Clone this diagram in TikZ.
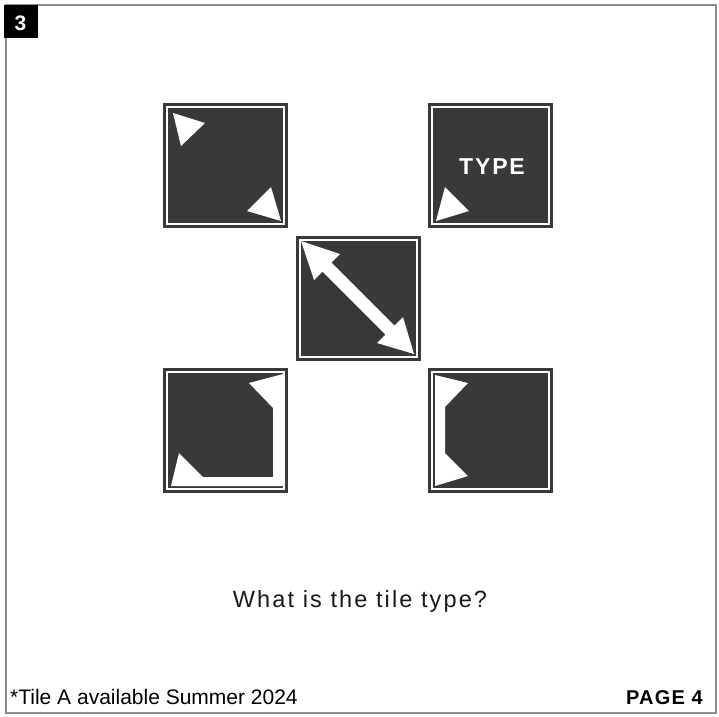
\documentclass[tikz,border=0pt]{standalone}
\usepackage{fontspec}
\setmainfont{Liberation Sans}
\definecolor{tiledark}{HTML}{393939}
\definecolor{framegray}{HTML}{8C8C8C}
\begin{document}
\begin{tikzpicture}[x=1pt,y=-1pt,
  tileline/.style={draw=tiledark,line width=2.7pt},
  whiteshape/.style={fill=white,draw=none},
  tile/.pic={
    \draw[tileline] (1.35,1.35) rectangle (123.65,123.65);
    \fill[tiledark] (5,5) rectangle (120,120);
  }]
\useasboundingbox (0,0) rectangle (719,716);
\fill[white] (0,0) rectangle (719,716);
% frame
\draw[framegray,line width=1.5pt] (6,5) rectangle (716,713);
\fill[black] (4,5) rectangle (38,38);
\node[anchor=base,text=white,font=\fontsize{21}{24}\selectfont\bfseries,inner sep=0] (num) at (20.5,30) {3};

% tile 1
\begin{scope}[shift={(163,103)}]
  \pic {tile};
  \fill[whiteshape] (10,10) -- (42,20) -- (18,43) -- cycle;
  \fill[whiteshape] (118,118) -- (108,84) -- (84,108) -- cycle;
\end{scope}
% tile 2
\begin{scope}[shift={(428,103)}]
  \pic {tile};
  \fill[whiteshape] (8,118) -- (17,84) -- (41,108) -- cycle;
\end{scope}
\node[anchor=base,text=white,inner sep=0,font=\fontsize{23}{26}\selectfont\bfseries\addfontfeatures{LetterSpace=8}] (type) at (492,174) {TYPE};
% tile 3
\begin{scope}[shift={(296,236)}]
  \pic {tile};
  \fill[whiteshape] (5,5) -- (44,18) -- (35.5,26.5) -- (98.5,89.5) -- (107,81) -- (118,118)
     -- (81,107) -- (89.5,98.5) -- (26.5,35.5) -- (18,44) -- cycle;
\end{scope}
% tile 4
\begin{scope}[shift={(163,368)}]
  \pic {tile};
  \fill[whiteshape] (86,15) -- (120,6) -- (120,118) -- (8,118) -- (16,85) -- (40,109)
     -- (110,109) -- (110,40) -- cycle;
\end{scope}
% tile 5
\begin{scope}[shift={(428,368)}]
  \pic {tile};
  \fill[whiteshape] (7,7) -- (40,15) -- (17,39) -- (17,85) -- (40,108) -- (7,118) -- cycle;
\end{scope}

\node[anchor=base,inner sep=0,text=black!90,font=\fontsize{23.5}{27}\selectfont\addfontfeatures{LetterSpace=9}] (question) at (360,607) {What is the tile type?};
\node[anchor=base west,inner sep=0,font=\fontsize{21}{24}\selectfont] (foot) at (10,704) {*Tile A available Summer 2024};
\node[anchor=base east,inner sep=0,font=\fontsize{20}{24}\selectfont\bfseries\addfontfeatures{LetterSpace=6}] (page) at (703,704) {PAGE 4};
\end{tikzpicture}
\end{document}
